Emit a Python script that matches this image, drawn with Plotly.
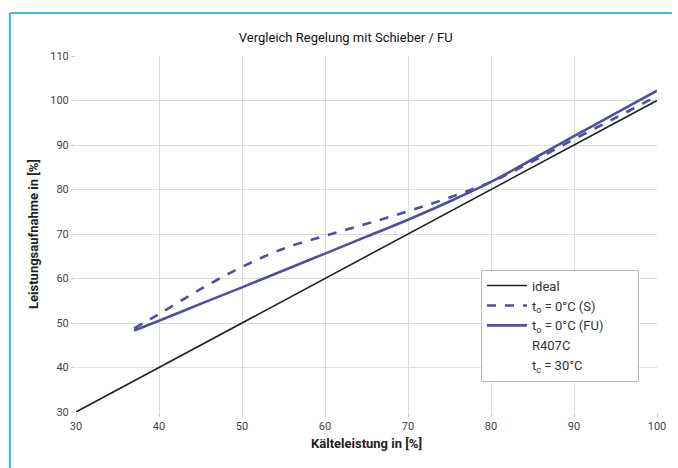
import plotly.graph_objects as go

x_ideal = [30, 100]
y_ideal = [30, 100]

x_vals = [37, 40, 45, 50, 55, 60, 65, 70, 75, 80, 85, 90, 95, 100]
y_fu = [48.3, 50.5, 54.3, 58.0, 61.8, 65.6, 69.4, 73.2, 77.3, 81.7, 86.8, 92.0, 97.1, 102.2]
y_s = [48.8, 52.0, 57.6, 62.6, 66.7, 69.6, 72.3, 75.1, 78.2, 81.7, 86.3, 91.3, 96.1, 101.0]

x_ticks = [30, 40, 50, 60, 70, 80, 90, 100]
y_ticks = [30, 40, 50, 60, 70, 80, 90, 100, 110]

purple = "#4f4f9e"
pad = "\u00a0" * 9

fig = go.Figure()
fig.add_trace(go.Scatter(x=x_ideal, y=y_ideal, mode="lines", name="ideal",
                         line=dict(color="#222222", width=1.6)))
fig.add_trace(go.Scatter(x=x_vals, y=y_s, mode="lines", name="t<sub>o</sub> = 0°C (S)",
                         line=dict(color=purple, width=2.6, dash="dash", shape="spline")))
fig.add_trace(go.Scatter(x=x_vals, y=y_fu, mode="lines", name="t<sub>o</sub> = 0°C (FU)" + pad,
                         line=dict(color=purple, width=2.6, shape="spline")))
fig.add_trace(go.Scatter(x=[None], y=[None], mode="lines", name="R407C",
                         line=dict(color="rgba(0,0,0,0)", width=1)))
fig.add_trace(go.Scatter(x=[None], y=[None], mode="lines", name="t<sub>c</sub> = 30°C",
                         line=dict(color="rgba(0,0,0,0)", width=1)))

font_fam = "Roboto, Liberation Sans, Arial, sans-serif"

fig.update_layout(
    width=678, height=468,
    margin=dict(l=76, r=13, t=56, b=56),
    paper_bgcolor="white", plot_bgcolor="white",
    font=dict(family=font_fam, size=11, color="#444444"),
    title=dict(text="Vergleich Regelung mit Schieber / FU", x=0.51, xanchor="center",
               y=1 - 37/468, yanchor="middle",
               font=dict(size=13, color="#111111", family=font_fam)),
    xaxis=dict(range=[30, 100], tickvals=x_ticks, showgrid=True, gridcolor="#dcdcdc",
               zeroline=False, ticks="outside", ticklen=4, tickcolor="#cccccc",
               title=dict(text="<b>Kälteleistung in [%]</b>", standoff=6,
                          font=dict(size=13, color="#222222"))),
    yaxis=dict(range=[30, 110], tickvals=y_ticks, showgrid=True, gridcolor="#dcdcdc",
               zeroline=False, ticks="outside", ticklen=4, tickcolor="#cccccc",
               title=dict(text="<b>Leistungsaufnahme in [%]</b>", standoff=8,
                          font=dict(size=13, color="#222222"))),
    legend=dict(x=0.697, y=0.40, xanchor="left", yanchor="top",
                bgcolor="white", bordercolor="#bbbbbb", borderwidth=1,
                font=dict(size=13, color="#333333"), tracegroupgap=0,
                itemwidth=40),
    showlegend=True,
)

# blue frame lines (left and top)
fig.add_shape(type="line", xref="paper", yref="paper",
              x0=(9-76)/589, x1=(9-76)/589, y0=(412-13)/356, y1=(412-470)/356,
              line=dict(color="#3db5e8", width=2))
fig.add_shape(type="line", xref="paper", yref="paper",
              x0=(9-76)/589, x1=(680-76)/589, y0=(412-13)/356, y1=(412-13)/356,
              line=dict(color="#3db5e8", width=2))

fig.write_html("out.html")
